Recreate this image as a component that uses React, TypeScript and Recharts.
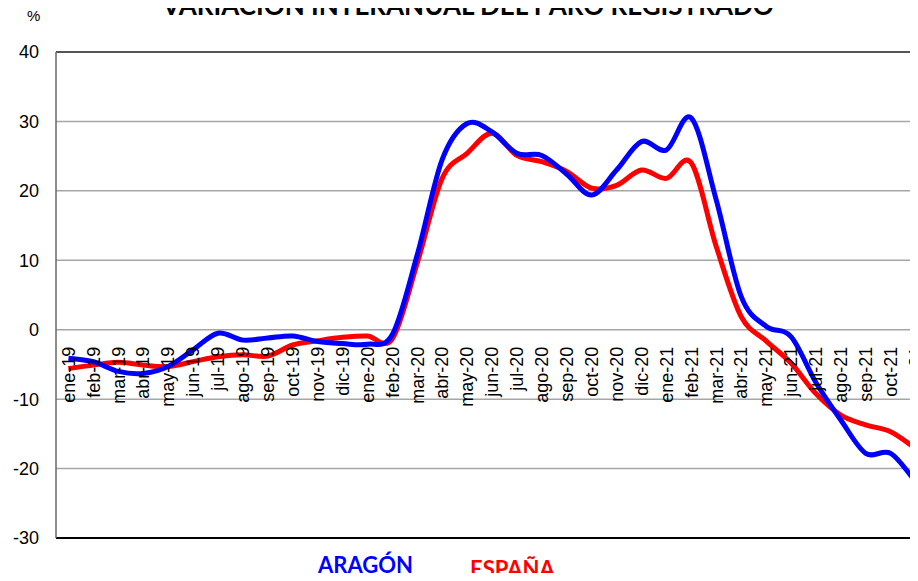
import { CartesianGrid, Line, LineChart, ReferenceLine, XAxis, YAxis } from "recharts";

const months = [
  "ene-19", "feb-19", "mar-19", "abr-19", "may-19", "jun-19", "jul-19", "ago-19", "sep-19", "oct-19", "nov-19", "dic-19",
  "ene-20", "feb-20", "mar-20", "abr-20", "may-20", "jun-20", "jul-20", "ago-20", "sep-20", "oct-20", "nov-20", "dic-20",
  "ene-21", "feb-21", "mar-21", "abr-21", "may-21", "jun-21", "jul-21", "ago-21", "sep-21", "oct-21", "nov-21",
];

const aragon = [
  -4.1, -4.6, -6.0, -6.3, -5.3, -2.9, -0.5, -1.5, -1.2, -0.9, -1.7, -2.0,
  -2.1, -0.7, 10.8, 24.5, 29.7, 28.5, 25.4, 25.1, 22.4, 19.4, 23.0, 27.1,
  25.9, 30.5, 18.7, 4.8, 0.5, -1.0, -7.6, -13.0, -17.8, -17.8, -21.9,
];

const espana = [
  -5.6, -5.1, -4.7, -5.1, -5.3, -4.6, -3.9, -3.6, -3.8, -2.2, -1.6, -1.1,
  -0.9, -1.3, 9.6, 21.8, 25.4, 28.3, 25.1, 24.2, 22.8, 20.4, 20.8, 23.0,
  21.8, 24.0, 12.0, 1.9, -1.6, -4.8, -9.2, -12.3, -13.7, -14.7, -17.1,
];

const yTicks = [-30, -20, -10, 0, 10, 20, 30, 40];

const data = months.map((m, i) => ({ mes: m, aragon: aragon[i], espana: espana[i] }));

// layout
const CHART_W = 928;
const CHART_H = 581;
const PLOT_TOP = 52;
const PLOT_BOTTOM = 538;
const Y_MIN = -30;
const Y_MAX = 40;
const zeroY = PLOT_TOP + ((PLOT_BOTTOM - PLOT_TOP) * Y_MAX) / (Y_MAX - Y_MIN);
const halfCat = (CHART_W - 56) / months.length / 2;

// excel-like smoothed line (catmull-rom as bezier)
function excelCurve(context: any) {
  let pts: number[][] = [];
  return {
    areaStart() {},
    areaEnd() {},
    lineStart() {
      pts = [];
    },
    point(x: number, y: number) {
      pts.push([+x, +y]);
    },
    lineEnd() {
      if (!pts.length) return;
      context.moveTo(pts[0][0], pts[0][1]);
      for (let i = 0; i < pts.length - 1; i++) {
        const p0 = pts[Math.max(i - 1, 0)];
        const p1 = pts[i];
        const p2 = pts[i + 1];
        const p3 = pts[Math.min(i + 2, pts.length - 1)];
        context.bezierCurveTo(
          p1[0] + (p2[0] - p0[0]) / 6,
          p1[1] + (p2[1] - p0[1]) / 6,
          p2[0] - (p3[0] - p1[0]) / 6,
          p2[1] - (p3[1] - p1[1]) / 6,
          p2[0],
          p2[1]
        );
      }
    },
  };
}

function MonthTick({ x, payload }: { x?: number; y?: number; payload?: { value: string } }) {
  const ty = zeroY + 17;
  return (
    <text
      x={x}
      y={ty}
      dy="0.35em"
      transform={`rotate(-90, ${x}, ${ty})`}
      textAnchor="end"
      fill="#000"
      fontSize={18}
      fontFamily="'Liberation Sans', Arial, sans-serif"
    >
      {payload?.value}
    </text>
  );
}

export default function App() {
  return (
    <div
      style={{
        position: "relative",
        width: 918,
        height: 581,
        margin: -8,
        overflow: "hidden",
        background: "#fff",
      }}
    >
      <div
        style={{
          position: "absolute",
          left: 0,
          width: 936,
          top: -8,
          textAlign: "center",
          fontFamily: "Lato, sans-serif",
          fontWeight: 700,
          fontSize: 26,
          color: "#000",
          lineHeight: "26px",
          whiteSpace: "nowrap",
        }}
      >
        VARIACIÓN INTERANUAL DEL PARO REGISTRADO
      </div>
      <div
        style={{
          position: "absolute",
          left: 27,
          top: 7,
          fontFamily: "'Liberation Sans', Arial, sans-serif",
          fontSize: 15,
          color: "#000",
        }}
      >
        %
      </div>

      <LineChart
        width={CHART_W}
        height={CHART_H}
        data={data}
        margin={{ top: PLOT_TOP, right: 0, left: 0, bottom: 0 }}
      >
        <CartesianGrid vertical={false} stroke="#a6a6a6" strokeWidth={1.5} />
        <ReferenceLine y={40} stroke="#555" strokeWidth={2} />
        <XAxis
          dataKey="mes"
          interval={0}
          height={CHART_H - PLOT_BOTTOM}
          padding={{ left: halfCat, right: halfCat }}
          axisLine={{ stroke: "#000", strokeWidth: 2 }}
          tickLine={false}
          tick={<MonthTick />}
        />
        <YAxis
          width={56}
          domain={[Y_MIN, Y_MAX]}
          ticks={yTicks}
          interval={0}
          axisLine={{ stroke: "#666", strokeWidth: 1.5 }}
          tickLine={false}
          tickSize={6}
          tickMargin={11}
          tick={{ fill: "#000", fontSize: 18, fontFamily: "'Liberation Sans', Arial, sans-serif" }}
        />
        <Line
          dataKey="espana"
          type={excelCurve as any}
          stroke="#ff0000"
          strokeWidth={5}
          dot={false}
          isAnimationActive={false}
        />
        <Line
          dataKey="aragon"
          type={excelCurve as any}
          stroke="#0000ff"
          strokeWidth={5}
          dot={false}
          isAnimationActive={false}
        />
      </LineChart>

      <div
        style={{
          position: "absolute",
          left: 318,
          top: 551,
          fontFamily: "Lato, sans-serif",
          fontWeight: 700,
          fontSize: 22,
          color: "#0000ff",
        }}
      >
        ARAGÓN
      </div>
      <div
        style={{
          position: "absolute",
          left: 470,
          top: 555,
          fontFamily: "Lato, sans-serif",
          fontWeight: 700,
          fontSize: 22,
          color: "#ff0000",
        }}
      >
        ESPAÑA
      </div>
    </div>
  );
}
